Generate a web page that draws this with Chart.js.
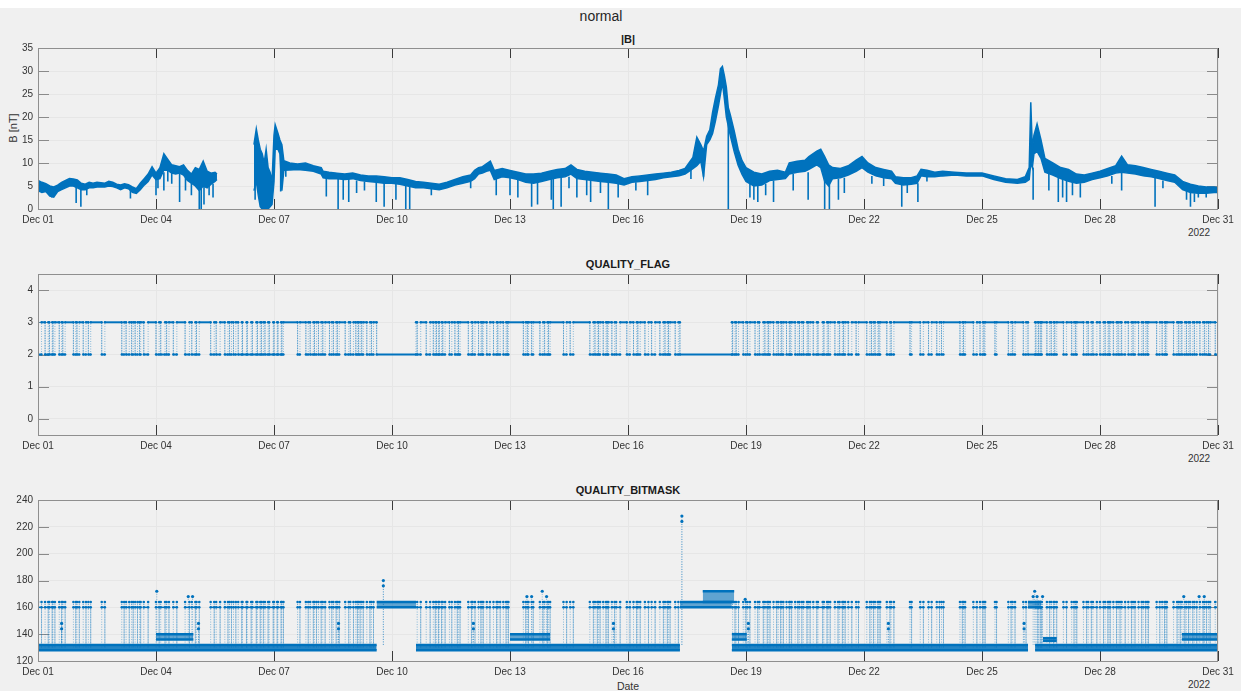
<!DOCTYPE html>
<html>
<head>
<meta charset="utf-8">
<title>normal</title>
<script src="https://cdn.jsdelivr.net/npm/chart.js@4.4.1/dist/chart.umd.min.js"></script>
<style>
  body { margin: 0; width: 1241px; height: 691px; background: #f0f0f0; position: relative; overflow: hidden;
         font-family: "Liberation Sans", Arial, Helvetica, sans-serif; color: #262626; }
  .strip { position: absolute; left: 0; top: 0; width: 1241px; height: 8px; background: #fff; }
  canvas { position: absolute; left: 0; }
  .lbl { position: absolute; transform: translate(-50%, -50%); white-space: nowrap; line-height: 1; }
  .ttl { font-weight: bold; font-size: 11px; color: #1a1a1a; }
  .tk { font-size: 10px; color: #333; }
</style>
</head>
<body>
<div class="strip"></div>
<div class="lbl" style="left:601px;top:16px;font-size:14px;">normal</div>

<div class="lbl ttl" style="left:628px;top:39px;">|B|</div>
<div class="lbl tk" style="left:13px;top:128px;transform:translate(-50%,-50%) rotate(-90deg);font-size:11px;">B [nT]</div>
<div class="lbl tk" style="left:1199px;top:233px;">2022</div>
<canvas id="cB" width="1241" height="200" style="top:37px;width:1241px;height:200px"></canvas>

<div class="lbl ttl" style="left:628px;top:264px;">QUALITY_FLAG</div>
<div class="lbl tk" style="left:1199px;top:459px;">2022</div>
<canvas id="cFlag" width="1241" height="200" style="top:263px;width:1241px;height:200px"></canvas>

<div class="lbl ttl" style="left:628px;top:490px;">QUALITY_BITMASK</div>
<div class="lbl tk" style="left:1199px;top:685px;">2022</div>
<div class="lbl tk" style="left:628px;top:686px;font-size:10.5px;">Date</div>
<canvas id="cMask" width="1241" height="200" style="top:489px;width:1241px;height:200px"></canvas>

<script>
// x values are days since Dec 01 2022 00:00
const xTickDays = [0, 3, 6, 9, 12, 15, 18, 21, 24, 27, 30];
const xTickLabels = ['Dec 01', 'Dec 04', 'Dec 07', 'Dec 10', 'Dec 13', 'Dec 16',
                     'Dec 19', 'Dec 22', 'Dec 25', 'Dec 28', 'Dec 31'];

// |B| : upper and lower edge of the noisy trace (null = data gap)
const bT = [
  0, 0.1, 0.2, 0.3, 0.4, 0.5, 0.6, 0.7, 0.8, 0.9,
  1.0, 1.1, 1.2, 1.3, 1.4, 1.5, 1.6, 1.7, 1.8, 1.9,
  2.0, 2.1, 2.2, 2.3, 2.4, 2.5, 2.6, 2.7, 2.8, 2.9,
  3.0, 3.1, 3.2, 3.3, 3.4, 3.5, 3.6, 3.7, 3.8, 3.9,
  4.0, 4.1, 4.2, 4.3, 4.4, 4.5, 4.55, 5.0,
  5.49, 5.55, 5.6, 5.65, 5.7, 5.75, 5.8, 5.85, 5.9, 5.95,
  6.0, 6.03, 6.1, 6.15, 6.2, 6.25, 6.4, 6.6, 6.8, 7.0,
  7.2, 7.25, 7.4, 7.6, 7.8, 8.0, 8.2, 8.4, 8.6, 8.8,
  9.0, 9.2, 9.4, 9.6, 9.8, 10.0, 10.2, 10.4, 10.6, 10.8,
  11.0, 11.1, 11.2, 11.3, 11.4, 11.5, 11.6, 11.8, 12.0, 12.2,
  12.4, 12.6, 12.8, 13.0, 13.2, 13.4, 13.55, 13.7, 13.9, 14.1,
  14.3, 14.5, 14.7, 14.9, 15.1, 15.3, 15.5, 15.7, 15.9, 16.1,
  16.3, 16.45, 16.55, 16.65, 16.75, 16.85, 16.92, 17.0, 17.08, 17.15,
  17.22, 17.3, 17.35, 17.4, 17.45, 17.5, 17.55, 17.6, 17.7, 17.8,
  17.9, 18.0, 18.2, 18.4, 18.6, 18.8, 19.0, 19.1, 19.3, 19.5,
  19.6, 19.8, 19.9, 20.0, 20.1, 20.2, 20.4, 20.6, 20.8, 20.95,
  21.1, 21.3, 21.5, 21.7, 21.8, 22.0, 22.2, 22.35, 22.45, 22.6,
  22.8, 23.0, 23.3, 23.6, 24.0, 24.3, 24.6, 24.9, 25.1, 25.2,
  25.24, 25.28, 25.32, 25.4, 25.5, 25.6, 25.8, 26.0, 26.2, 26.4,
  26.6, 26.8, 27.0, 27.2, 27.4, 27.55, 27.7, 27.9, 28.1, 28.3,
  28.5, 28.7, 28.9, 29.1, 29.3, 29.5, 29.7, 29.9, 30.0
];
const bHi = [
  6.2, 5.8, 5.5, 5.0, 4.8, 5.2, 5.8, 6.2, 6.6, 6.5,
  6.3, 5.6, 5.4, 5.8, 5.6, 5.8, 5.7, 5.6, 6.0, 5.8,
  5.4, 5.2, 5.5, 5.3, 4.8, 4.4, 5.6, 6.6, 7.6, 9.2,
  7.8, 9.0, 12.0, 10.8, 9.6, 9.4, 9.2, 9.6, 8.4, 7.6,
  9.0, 8.6, 10.4, 8.2, 7.8, 8.0, 7.6, null,
  14.0, 17.4, 15.0, 13.0, 12.0, 10.0, 13.0, 9.0, 8.0, 6.0,
  16.0, 18.3, 16.5, 15.0, 14.0, 10.5, 10.0, 9.8, 10.0, 9.4,
  9.0, 8.2, 8.0, 7.8, 7.6, 7.8, 7.4, 7.2, 7.2, 7.0,
  6.8, 6.8, 6.4, 6.0, 5.8, 5.6, 5.4, 5.8, 6.4, 7.0,
  7.4, 8.4, 9.0, 9.2, 9.8, 10.4, 8.4, 8.8, 8.4, 8.0,
  7.6, 7.6, 7.8, 8.2, 8.6, 8.8, 9.6, 8.6, 8.2, 8.0,
  7.8, 7.6, 7.4, 6.6, 7.0, 7.2, 7.4, 7.6, 7.8, 8.0,
  8.4, 8.8, 10.0, 11.2, 15.6, 14.0, 12.6, 15.8, 17.2, 21.0,
  24.0, 27.0, 30.5, 31.0, 29.0, 26.5, 22.0, 20.5, 17.0, 13.0,
  10.5, 9.0, 8.0, 7.6, 8.2, 8.4, 8.0, 10.0, 10.4, 10.6,
  11.4, 12.6, 13.0, 11.4, 9.6, 9.0, 8.8, 9.4, 10.6, 11.4,
  10.0, 9.0, 8.6, 8.2, 7.0, 6.8, 6.8, 7.2, 8.6, 8.4,
  8.0, 8.2, 8.0, 7.8, 7.8, 7.2, 6.6, 6.4, 7.0, 9.0,
  23.2, 13.0, 16.0, 18.5, 15.0, 11.0, 10.0, 9.0, 8.6, 7.6,
  7.4, 7.8, 8.2, 8.8, 9.4, 11.5, 9.6, 9.4, 9.0, 8.6,
  8.2, 7.8, 7.4, 6.0, 5.4, 5.0, 4.8, 4.8, 4.6
];
const bLo = [
  4.0, 3.6, 3.8, 2.8, 2.6, 3.8, 4.2, 4.6, 5.0, 5.0,
  4.6, 4.2, 4.2, 4.6, 4.6, 4.8, 4.8, 4.8, 5.0, 4.9,
  4.6, 4.2, 4.6, 4.4, 3.6, 3.4, 4.2, 5.2, 6.0, 7.4,
  6.4, 6.6, 8.5, 8.4, 7.8, 7.6, 7.8, 7.4, 6.2, 5.6,
  5.0, 4.0, 5.0, 4.6, 5.4, 6.0, 6.4, null,
  4.0, 6.0, 3.0, 0.5, 0.0, 0.0, 0.0, 0.0, 0.5, 1.0,
  6.0, 13.0, 13.0, 12.0, 4.0, 8.4, 8.5, 8.6, 8.4, 8.2,
  7.6, 6.8, 6.6, 6.6, 6.4, 6.6, 6.2, 6.0, 5.8, 5.6,
  5.6, 5.4, 5.0, 4.6, 4.6, 4.4, 4.2, 4.6, 5.2, 5.6,
  6.0, 6.6, 7.6, 7.8, 8.2, 8.4, 6.4, 7.0, 6.8, 6.4,
  5.8, 5.6, 6.0, 6.4, 6.8, 7.0, 7.6, 6.6, 6.4, 6.2,
  6.0, 5.8, 5.6, 5.2, 5.8, 6.0, 6.2, 6.4, 6.8, 7.0,
  7.2, 7.6, 8.2, 8.8, 9.4, 10.4, 7.0, 14.0, 15.0, 16.4,
  19.0, 22.5, 25.0, 27.5, 24.0, 20.0, 18.0, 16.0, 12.5, 9.5,
  7.5, 6.0, 5.0, 5.2, 6.2, 6.4, 6.6, 7.6, 8.0, 8.2,
  8.6, 9.6, 9.0, 6.0, 5.0, 6.6, 6.8, 7.4, 8.2, 9.0,
  8.0, 7.2, 6.8, 6.6, 5.6, 5.2, 5.4, 5.6, 7.2, 7.0,
  7.0, 7.2, 7.4, 7.2, 7.2, 6.4, 5.8, 5.6, 5.8, 6.4,
  10.0, 9.0, 12.0, 12.5, 11.0, 8.0, 7.4, 6.6, 6.0, 5.6,
  5.8, 6.4, 6.8, 7.2, 7.8, 8.0, 7.8, 7.6, 7.2, 7.0,
  6.6, 6.2, 5.8, 4.2, 3.6, 3.4, 3.4, 3.6, 3.6
];
// short drop-outs of |B|: time, value at top, value at bottom
const bDipT   = [0.35, 0.97, 1.09, 1.24, 2.35, 3.0, 3.05, 3.2, 3.3, 3.4, 3.6, 3.75, 3.9, 4.1, 4.15, 4.22, 4.35, 4.45, 5.52, 6.17,
                 6.3, 7.33, 7.63, 7.76, 7.9, 8.1, 8.3, 8.6, 8.8, 9.1, 9.35, 9.45, 10.0, 11.0, 11.65, 12.0, 12.2, 12.55, 12.7, 13.05,
                 13.1, 13.3, 13.5, 13.7, 13.95, 14.05, 14.3, 14.5, 14.75, 15.2, 15.5, 16.6, 16.92, 17.55, 18.1, 18.2, 18.3, 18.5, 18.7, 19.2,
                 19.58, 20.0, 20.12, 20.35, 20.5, 21.2, 21.5, 21.96, 22.1, 22.37, 22.6, 25.3, 25.7, 25.94, 26.05, 26.15, 26.3, 26.5, 27.3, 27.55,
                 28.4, 28.6, 29.2, 29.3, 29.4, 29.5, 29.7];
const bDipTop = [4, 5, 4.5, 4.5, 4.4, 6.5, 7, 8, 8.5, 8, 8, 7, 6, 5, 5, 5, 5, 5.5, 5, 12,
                 8.5, 7, 6.6, 6.5, 6.5, 6.2, 6, 6, 5.8, 5.6, 5.2, 5, 4.4, 6, 7, 7, 6.5, 6, 6, 6.5,
                 6.5, 6.8, 7, 6.6, 6.5, 6.2, 6, 5.8, 5.6, 5.8, 6.2, 8.5, 10, 20, 5.5, 5, 5, 5.5, 6.2, 7.6,
                 8, 7, 6, 6.6, 6.8, 7.2, 6.8, 5.2, 5.4, 5.6, 7, 9, 8, 6.8, 6.6, 6.2, 6, 5.6, 7.2, 8,
                 7, 6.2, 4, 3.6, 3.4, 3.4, 3.4];
const bDipBot = [2.5, 1.3, 0.5, 3.0, 2.3, 3.0, 4.5, 4.0, 6, 5.5, 1.5, 4, 3.0, 0, 0, 1, 3.0, 2.5, 2, 3.8,
                 7, 2.7, 0, 2, 1.5, 3.5, 4, 1.5, 0.5, 2, 0, 0, 3, 4.5, 3, 3, 2.5, 0.5, 1, 2,
                 0, 0.5, 4.5, 2.5, 3, 1.5, 3.5, 0, 2.5, 4, 3, 6.5, 7, 0, 2.5, 2, 1.5, 3, 1.5, 4,
                 2, 0, 0, 2, 3.5, 5.5, 5, 0.5, 3.5, 1.5, 6, 2, 4, 1.5, 2.5, 1.5, 3, 2.5, 5.5, 4,
                 0.5, 4.5, 2, 0.5, 1.5, 2.5, 2.5];

// QUALITY_FLAG : intervals where the flag drops from 3 to 2
const flagLowShort = [
  [0.0, 0.09], [0.18, 0.26], [0.29, 0.36], [0.38, 0.43], [0.54, 0.6], [0.63, 0.69], [0.9, 0.96], [0.99, 1.05],
  [1.15, 1.22], [1.28, 1.34], [1.62, 1.7], [2.13, 2.19], [2.24, 2.32], [2.38, 2.42], [2.47, 2.53], [2.58, 2.61],
  [2.69, 2.8], [3.0, 3.08], [3.12, 3.23], [3.27, 3.33], [3.44, 3.53], [3.74, 3.85], [3.91, 4.0], [4.03, 4.1],
  [4.39, 4.48], [4.53, 4.63], [4.75, 4.83], [4.87, 4.92], [4.97, 5.03], [5.09, 5.18], [5.2, 5.3], [5.32, 5.42],
  [5.45, 5.55], [5.58, 5.65], [5.68, 5.73], [5.77, 5.85], [5.88, 5.98], [6.0, 6.08], [6.1, 6.18], [6.2, 6.24],
  [6.6, 6.66], [6.81, 6.87], [6.92, 7.0], [7.03, 7.08], [7.13, 7.2], [7.24, 7.3], [7.41, 7.47], [7.51, 7.58],
  [7.61, 7.66], [7.81, 7.9], [7.94, 8.02], [8.08, 8.12], [8.15, 8.19], [8.23, 8.27], [8.36, 8.44], [8.48, 8.53],
  [9.64, 9.73], [9.87, 9.97], [10.05, 10.1], [10.13, 10.18], [10.2, 10.26], [10.29, 10.35], [10.46, 10.52], [10.6, 10.66],
  [10.69, 10.73], [10.94, 11.02], [11.05, 11.11], [11.2, 11.26], [11.29, 11.32], [11.41, 11.49], [11.58, 11.66], [11.69, 11.75],
  [11.83, 11.9], [11.93, 11.96], [12.34, 12.4], [12.44, 12.47], [12.55, 12.59], [12.76, 12.84], [12.88, 12.95], [12.98, 13.02],
  [13.36, 13.44], [13.53, 13.61], [14.03, 14.12], [14.16, 14.22], [14.25, 14.29], [14.37, 14.44], [14.47, 14.5], [14.59, 14.66],
  [14.7, 14.8], [14.97, 15.05], [15.14, 15.22], [15.25, 15.31], [15.43, 15.52], [15.6, 15.69], [15.81, 15.9], [15.94, 16.0],
  [16.03, 16.07], [16.2, 16.28],
  [17.66, 17.72], [17.75, 17.81], [17.93, 18.0], [18.04, 18.1], [18.23, 18.3], [18.34, 18.44], [18.48, 18.54], [18.57, 18.61],
  [18.7, 18.78], [18.82, 18.88], [18.91, 18.95], [19.03, 19.1], [19.12, 19.16], [19.25, 19.32], [19.36, 19.42], [19.46, 19.55],
  [19.58, 19.63], [19.71, 19.8], [19.83, 19.95], [19.98, 20.06], [20.09, 20.14], [20.26, 20.34], [20.38, 20.45], [20.48, 20.52],
  [20.6, 20.69], [20.8, 20.86], [21.07, 21.15], [21.19, 21.24], [21.28, 21.35], [21.38, 21.41], [21.58, 21.66], [21.69, 21.76],
  [22.17, 22.21], [22.43, 22.51], [22.64, 22.72], [22.85, 22.92], [22.97, 23.02], [23.44, 23.5], [23.53, 23.57], [23.78, 23.87],
  [23.95, 24.02], [24.05, 24.08], [24.33, 24.37], [24.67, 24.74], [24.78, 24.84], [25.05, 25.12],
  [25.37, 25.42], [25.44, 25.48], [25.5, 25.52], [25.65, 25.72], [25.76, 25.82], [25.85, 25.9], [26.07, 26.15], [26.28, 26.34],
  [26.38, 26.41], [26.58, 26.66], [26.7, 26.78], [26.82, 26.92], [27.0, 27.09], [27.13, 27.2], [27.23, 27.26], [27.34, 27.42],
  [27.46, 27.51], [27.55, 27.64], [27.72, 27.8], [27.84, 27.89], [27.98, 28.06], [28.1, 28.16], [28.2, 28.23], [28.44, 28.52],
  [28.58, 28.64], [28.67, 28.7], [28.87, 28.96], [29.0, 29.04], [29.08, 29.16], [29.2, 29.25], [29.29, 29.36], [29.4, 29.46],
  [29.54, 29.62], [29.66, 29.71], [29.76, 29.8], [29.93, 30.0]
];
const flagLowLong = [[8.61, 9.61], [16.32, 17.64], [25.17, 25.35]];
const flagHigh = 3, flagLow = 2;

// QUALITY_BITMASK : filled bands (start, end, low value, high value)
const maskBandStart = [0, 9.61, 17.64, 25.35, 3.0, 12.0, 17.64, 25.55, 29.08, 8.61, 16.32, 16.9, 25.17];
const maskBandEnd   = [8.61, 16.32, 25.17, 30, 3.95, 13.02, 18.02, 25.9, 30, 9.61, 17.64, 17.7, 25.5];
const maskBandLo    = [128, 128, 128, 128, 136, 136, 136, 135, 136, 160, 160, 164, 160];
const maskBandHi    = [132, 132, 132, 132, 140, 140, 140, 137, 140, 164, 164, 172, 164];
// spikes that go with the flag drops
const maskSpikeBase = 130;
const maskSpikeLevels = [160, 164];
// isolated higher values
const maskExtraT = [0.6, 0.6, 3.02, 3.82, 3.93, 4.08, 4.08, 7.64, 7.64, 8.78, 8.78, 11.07, 11.07, 12.43, 12.55, 12.82, 12.93,
                    14.63, 14.63, 16.37, 16.37, 17.98, 18.06, 18.06, 21.62, 21.62, 25.07, 25.07, 25.3, 25.34, 25.4, 25.54,
                    29.13, 29.52, 29.65];
const maskExtraV = [144, 148, 172, 168, 168, 144, 148, 144, 148, 176, 180, 144, 148, 168, 168, 172, 168,
                    144, 148, 224, 228, 166, 144, 148, 144, 148, 144, 148, 168, 172, 168, 168,
                    168, 168, 168];

const blue = '#0072BD';
const blueDots = 'rgba(0,114,189,0.55)';

// matlab style: box and tick marks drawn inside the axes
const matlabAxes = {
  id: 'matlabAxes',
  beforeDatasetsDraw(chart) {
    const { ctx, chartArea: a, scales } = chart;
    ctx.save();
    ctx.lineWidth = 1;
    ctx.strokeStyle = '#3a3a3a';
    ctx.beginPath();
    scales.x.ticks.forEach(t => {
      const px = Math.round(scales.x.getPixelForValue(t.value)) + 0.5;
      ctx.moveTo(px, a.top); ctx.lineTo(px, a.top + 10);
      ctx.moveTo(px, a.bottom); ctx.lineTo(px, a.bottom - 10);
    });
    ctx.stroke();
    ctx.strokeStyle = '#8a8a8a';
    ctx.beginPath();
    scales.y.ticks.forEach(t => {
      const py = Math.round(scales.y.getPixelForValue(t.value)) + 0.5;
      ctx.moveTo(a.left, py); ctx.lineTo(a.left + 11, py);
      ctx.moveTo(a.right, py); ctx.lineTo(a.right - 11, py);
    });
    ctx.stroke();
    ctx.restore();
  },
  afterDraw(chart) {
    const { ctx, chartArea: a } = chart;
    ctx.save();
    ctx.strokeStyle = '#8f8f8f';
    ctx.lineWidth = 1;
    ctx.strokeRect(Math.round(a.left) + 0.5, Math.round(a.top) + 0.5,
                   Math.round(a.width) - 1, Math.round(a.height));
    ctx.restore();
  }
};

function axesOptions(yMin, yMax, yTicks) {
  return {
    responsive: false,
    animation: false,
    events: [],
    layout: { padding: { top: 10, right: 23, left: 0, bottom: 0 } },
    plugins: { legend: { display: false }, tooltip: { enabled: false } },
    elements: { point: { radius: 0 }, line: { tension: 0 } },
    scales: {
      x: {
        type: 'linear', min: 0, max: 30,
        afterBuildTicks: s => { s.ticks = xTickDays.map(v => ({ value: v })); },
        afterFit: s => { s.height = 28; },
        ticks: {
          padding: 5, color: '#333', maxRotation: 0, autoSkip: false,
          font: { family: 'Liberation Sans', size: 10 },
          callback: v => xTickLabels[xTickDays.indexOf(v)]
        },
        grid: { color: '#e6e6e6', drawTicks: false },
        border: { display: false }
      },
      y: {
        min: yMin, max: yMax,
        afterBuildTicks: s => { s.ticks = yTicks.map(v => ({ value: v })); },
        afterFit: s => { s.width = 38; },
        ticks: { padding: 5, color: '#333', font: { family: 'Liberation Sans', size: 10 } },
        grid: { color: '#e6e6e6', drawTicks: false },
        border: { display: false }
      }
    }
  };
}

const flatSeg = c => c.p0.parsed.y === c.p1.parsed.y;

// ---------- |B|
const bHiPts = bT.map((t, i) => ({ x: t, y: bHi[i] }));
const bLoPts = bT.map((t, i) => ({ x: t, y: bLo[i] }));
const bDipPts = [];
bDipT.forEach((t, i) => { bDipPts.push({ x: t, y: bDipTop[i] }, { x: t, y: bDipBot[i] }, { x: t, y: null }); });

new Chart(document.getElementById('cB'), {
  type: 'line',
  data: {
    datasets: [
      { data: bHiPts, borderColor: blue, borderWidth: 1.5, fill: false, spanGaps: false },
      { data: bLoPts, borderColor: blue, borderWidth: 1.5, backgroundColor: blue, fill: '-1', spanGaps: false },
      { data: bDipPts, borderColor: blue, borderWidth: 1.6, fill: false, spanGaps: false }
    ]
  },
  options: axesOptions(0, 35, [0, 5, 10, 15, 20, 25, 30, 35]),
  plugins: [matlabAxes]
});

// ---------- QUALITY_FLAG
const flagSpans = flagLowShort.concat(flagLowLong).sort((p, q) => p[0] - q[0]);
const flagPts = [];
flagSpans.forEach(([a, b]) => {
  flagPts.push({ x: a, y: flagHigh }, { x: a, y: flagLow }, { x: b, y: flagLow }, { x: b, y: flagHigh });
});
flagPts.push({ x: 30, y: flagHigh });

new Chart(document.getElementById('cFlag'), {
  type: 'line',
  data: {
    datasets: [{
      data: flagPts, borderColor: blue, borderWidth: 2, fill: false,
      pointRadius: 1.2, pointBorderWidth: 0, pointBackgroundColor: blue,
      segment: {
        borderWidth: c => flatSeg(c) ? 2 : 0.8,
        borderDash: c => flatSeg(c) ? [] : [1, 1.5],
        borderColor: c => flatSeg(c) ? blue : blueDots
      }
    }]
  },
  options: axesOptions(-0.5, 4.5, [0, 1, 2, 3, 4]),
  plugins: [matlabAxes]
});

// ---------- QUALITY_BITMASK
const maskSets = [];
maskBandStart.forEach((s, i) => {
  const e = maskBandEnd[i];
  const base = maskBandLo[i] === 128;
  maskSets.push({ data: [{ x: s, y: maskBandHi[i] }, { x: e, y: maskBandHi[i] }],
                  borderColor: blue, borderWidth: 2.5, fill: false });
  maskSets.push({ data: [{ x: s, y: maskBandLo[i] }, { x: e, y: maskBandLo[i] }],
                  borderColor: blue, borderWidth: 2.5, fill: '-1',
                  backgroundColor: base ? 'rgba(0,114,189,0.85)' : 'rgba(0,114,189,0.6)' });
});
const spikePts = [];
flagLowShort.forEach(([a, b]) => {
  spikePts.push({ x: a, y: maskSpikeBase }, { x: a, y: maskSpikeLevels[1] }, { x: a, y: maskSpikeLevels[0] },
                { x: b, y: maskSpikeLevels[0] }, { x: b, y: maskSpikeLevels[1] }, { x: b, y: maskSpikeBase },
                { x: b, y: null });
});
maskSets.push({
  data: spikePts, borderColor: blue, borderWidth: 1, fill: false, spanGaps: false,
  pointRadius: c => (c.raw && c.raw.y >= 160 ? 1.3 : 0), pointBorderWidth: 0, pointBackgroundColor: blue,
  segment: {
    borderWidth: c => flatSeg(c) ? 1.5 : 0.8,
    borderDash: c => flatSeg(c) ? [] : [1, 1.5],
    borderColor: c => flatSeg(c) ? blue : blueDots
  }
});
const extraPts = [];
maskExtraT.forEach((t, i) => {
  extraPts.push({ x: t, y: 132 }, { x: t, y: maskExtraV[i] }, { x: t, y: null });
});
maskSets.push({
  data: extraPts, borderColor: blueDots, borderWidth: 0.8, borderDash: [1, 1.5], fill: false, spanGaps: false,
  pointRadius: c => (c.raw && c.raw.y > 132 ? 1.6 : 0), pointBorderWidth: 0, pointBackgroundColor: blue
});

new Chart(document.getElementById('cMask'), {
  type: 'line',
  data: { datasets: maskSets },
  options: axesOptions(120, 240, [120, 140, 160, 180, 200, 220, 240]),
  plugins: [matlabAxes]
});
</script>
</body>
</html>
